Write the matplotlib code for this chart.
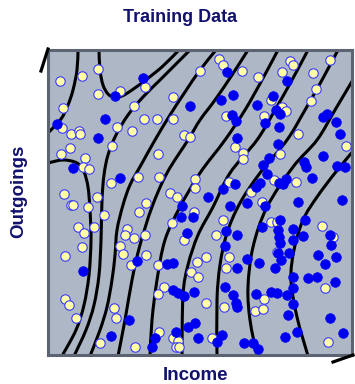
import numpy as np
import matplotlib
matplotlib.use("Agg")
import matplotlib.pyplot as plt
from matplotlib.path import Path
from matplotlib.patches import PathPatch
from matplotlib.lines import Line2D

# all positions, in picture pixels (x right, y down)
contour_1 = [(78, 50), (77, 70), (73, 90), (68, 105), (61, 119), (48, 133)]
contour_2 = [(99, 50), (100, 70), (103, 85), (108, 94), (114, 97), (122, 96),
             (132, 90), (147, 79), (163, 66), (179, 50)]
contour_3 = [(48, 163), (63, 160), (77, 163), (84, 172), (88, 187), (90, 210),
             (91, 240), (89, 275), (84, 305), (76, 330), (62, 356)]
contour_4 = [(190, 50), (175, 65), (160, 80), (143, 97), (128, 115), (116, 135),
             (108, 155), (104, 175), (102, 200), (101, 240), (99, 275),
             (94, 305), (86, 330), (74, 356)]
contour_5 = [(216, 50), (200, 70), (185, 92), (170, 115), (155, 140), (141, 165),
             (130, 185), (123, 205), (117, 230), (115, 255), (112, 280),
             (107, 307), (100, 330), (90, 356)]
contour_6 = [(248, 50), (232, 75), (215, 100), (200, 120), (188, 140), (167, 173),
             (152, 207), (140, 245), (132, 280), (125, 320), (118, 356)]
contour_7 = [(278, 50), (262, 80), (245, 110), (225, 140), (200, 173), (180, 207),
             (165, 240), (157, 280), (152, 320), (150, 356)]
contour_8 = [(308, 50), (292, 80), (275, 110), (257, 140), (230, 173), (213, 207),
             (198, 235), (188, 265), (183, 295), (182, 356)]
contour_9 = [(338, 50), (322, 80), (305, 110), (287, 140), (260, 173), (240, 203),
             (227, 233), (220, 265), (217, 300), (217, 356)]
contour_10 = [(354, 78), (335, 110), (317, 140), (293, 167), (267, 207),
              (253, 247), (248, 287), (250, 320), (257, 356)]
contour_11 = [(354, 150), (335, 173), (317, 197), (303, 220), (294, 250),
              (291, 280), (297, 317), (308, 356)]
contours = [contour_1, contour_2, contour_3, contour_4, contour_5, contour_6,
            contour_7, contour_8, contour_9, contour_10, contour_11]

yellow = np.array([
    (60, 81), (82, 76), (98, 69), (98, 94), (120, 91), (145, 87), (134, 106),
    (173, 97), (63, 108), (62, 128), (71, 134), (79, 131), (80, 134), (117, 127),
    (132, 131), (144, 119), (157, 119), (173, 119), (184, 135), (112, 146),
    (70, 148), (61, 154), (85, 158), (83, 167), (89, 169), (158, 154), (138, 177),
    (159, 177), (111, 183), (64, 194), (97, 197), (71, 205), (73, 205), (88, 207),
    (146, 203), (170, 193), (177, 197),
    (219, 59), (223, 65), (200, 71), (242, 71), (258, 77), (282, 72), (290, 61),
    (293, 65), (313, 73), (330, 60), (316, 89), (311, 101), (271, 100), (282, 107),
    (286, 111), (226, 116), (264, 116), (298, 134), (190, 137), (235, 147),
    (243, 153), (243, 159), (280, 154), (346, 146), (195, 179), (195, 188),
    (229, 182), (274, 180), (296, 182), (251, 192), (262, 202),
    (104, 215), (78, 227), (84, 233), (94, 227), (82, 247), (65, 256), (127, 229),
    (125, 235), (134, 238), (145, 235), (139, 212), (120, 246), (123, 254),
    (131, 265), (146, 255), (158, 265), (172, 223), (184, 240), (65, 299),
    (69, 305), (76, 318), (114, 308), (116, 318), (164, 287), (158, 294),
    (100, 343), (135, 347), (159, 332), (173, 338), (178, 341), (176, 347),
    (179, 347),
    (194, 212), (223, 220), (216, 235), (206, 257), (197, 262), (229, 257),
    (226, 268), (191, 272), (198, 277), (206, 303), (224, 307), (264, 299),
    (255, 311), (263, 309), (271, 222), (277, 222), (322, 226), (333, 237),
    (277, 252), (325, 288), (328, 342), (212, 338),
])

blue = np.array([
    (143, 78), (115, 96), (105, 119), (57, 124), (98, 138), (73, 168), (120, 178),
    (190, 106), (227, 72), (287, 81), (233, 95), (221, 100), (273, 96), (257, 105),
    (276, 110), (280, 114), (232, 115), (236, 121), (265, 123), (279, 127),
    (323, 117), (327, 114), (336, 122), (340, 134), (237, 138), (278, 144),
    (323, 156), (269, 158), (263, 165), (304, 162), (306, 167), (337, 166),
    (345, 167), (267, 174), (286, 179), (279, 183), (283, 184), (312, 178),
    (260, 183), (256, 187), (235, 184), (223, 189), (208, 197), (247, 203),
    (265, 206), (298, 202), (342, 200), (230, 206),
    (182, 206), (181, 217), (193, 217), (187, 233), (137, 261), (167, 264),
    (173, 263), (83, 271), (173, 290), (178, 293), (184, 296), (129, 320),
    (111, 336), (155, 338), (152, 347), (176, 332),
    (226, 231), (225, 246), (237, 235), (262, 227), (280, 220), (278, 230),
    (279, 237), (280, 243), (278, 253), (293, 229), (293, 240), (305, 220),
    (303, 236), (289, 253), (275, 268), (281, 260), (259, 263), (247, 259),
    (237, 268), (318, 255), (336, 257), (331, 245), (330, 235), (325, 264),
    (317, 277), (308, 278), (293, 277), (335, 282), (293, 288), (225, 287),
    (233, 295), (236, 303), (237, 307), (256, 294), (271, 292), (277, 293),
    (287, 295), (293, 304), (288, 315), (330, 318), (343, 333), (297, 332),
    (285, 337), (258, 349), (253, 343), (244, 343), (222, 335), (217, 342),
    (198, 338), (195, 323), (188, 327), (194, 292),
])

W, H = 355, 384


def smooth_path(pts):
    # Catmull-Rom through the read points, drawn as bezier segments
    pts = np.asarray(pts, float)
    verts = [pts[0]]
    codes = [Path.MOVETO]
    n = len(pts)
    for i in range(n - 1):
        p0 = pts[i - 1] if i > 0 else pts[i]
        p1 = pts[i]
        p2 = pts[i + 1]
        p3 = pts[i + 2] if i + 2 < n else pts[i + 1]
        verts += [p1 + (p2 - p0) / 6, p2 - (p3 - p1) / 6, p2]
        codes += [Path.CURVE4] * 3
    return Path(verts, codes)


fig = plt.figure(figsize=(W / 100, H / 100), dpi=100)
ax = fig.add_axes([48 / W, 1 - 355 / H, 304 / W, 305 / H])
ax.set_facecolor('#adb7c5')
ax.set_xlim(48, 352)
ax.set_ylim(355, 50)
ax.set_xticks([])
ax.set_yticks([])
for s in ax.spines.values():
    s.set_color('#5c6474')
    s.set_linewidth(2.2)

for c in contours:
    ax.add_patch(PathPatch(smooth_path(c), fill=False, lw=2.2,
                           edgecolor='black', capstyle='round', zorder=2))

ax.scatter(yellow[:, 0], yellow[:, 1], s=46, c='#ffffa8',
           edgecolors='#3a3aff', linewidths=0.8, zorder=3)
ax.scatter(blue[:, 0], blue[:, 1], s=48, c='#0000f0',
           edgecolors='#0000f0', linewidths=0.5, zorder=3)

# axis arrow stubs outside the box
fig.add_artist(Line2D([41 / W, 48 / W], [1 - 71 / H, 1 - 49 / H],
                      color='black', lw=2.3))
fig.add_artist(Line2D([333 / W, 353 / W], [1 - 362 / H, 1 - 355 / H],
                      color='black', lw=2.3))

navy = '#12126e'
font = 'Liberation Sans'
fig.text(180 / W, 1 - 18 / H, 'Training Data', ha='center', va='center',
         fontsize=13, fontweight='bold', color=navy, family=font)
fig.text(195 / W, 1 - 375 / H, 'Income', ha='center', va='center',
         fontsize=13.5, fontweight='bold', color=navy, family=font)
fig.text(18.5 / W, 1 - 191 / H, 'Outgoings', ha='center', va='center',
         rotation=90, fontsize=13.5, fontweight='bold', color=navy, family=font)

fig.savefig('out.png', dpi=100)
